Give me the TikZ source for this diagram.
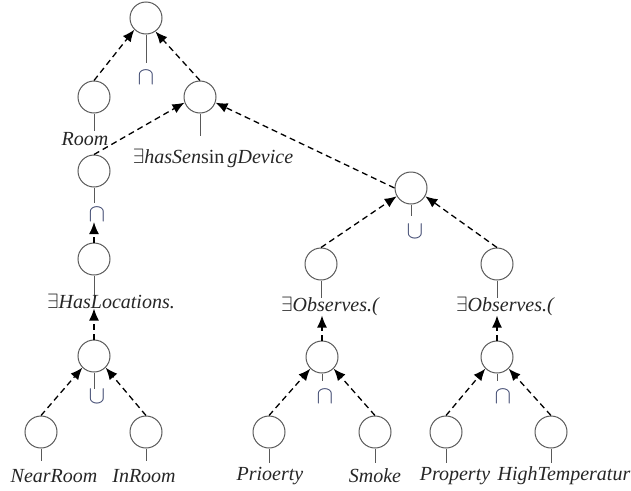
\documentclass[tikz,border=0pt]{standalone}
\usepackage{fontspec}
\setmainfont{Liberation Serif}
\usetikzlibrary{arrows.meta}
\definecolor{opcol}{RGB}{60,70,110}
\begin{document}
\begin{tikzpicture}[x=1pt,y=-1pt,
  cnode/.style={circle,draw=black!65,line width=1pt,minimum size=32pt,inner sep=0pt},
  lbl/.style={font=\fontsize{20}{24}\selectfont\itshape,inner sep=0pt,text=black!85},
  opsym/.style={font=\fontsize{30}{32}\selectfont,inner sep=0pt,text=opcol},
  stem/.style={draw=black!65,line width=1pt},
  dep/.style={draw=black,line width=1.3pt,dash pattern=on 6pt off 4pt,-{Latex[length=12pt,width=10pt]}}]
\useasboundingbox (0,0) rectangle (631,490);
% circles
\node[cnode] (top) at (146,18) {};
\node[cnode] (room) at (94,97) {};
\node[cnode] (hsd) at (200,97) {};
\node[cnode] (c1) at (94,171) {};
\node[cnode] (c2) at (94,259) {};
\node[cnode] (c3) at (94,356) {};
\node[cnode] (near) at (41,432) {};
\node[cnode] (inr) at (146,432) {};
\node[cnode] (u) at (411,188) {};
\node[cnode] (o1) at (321,264) {};
\node[cnode] (o2) at (497,264) {};
\node[cnode] (i1) at (322,357) {};
\node[cnode] (i2) at (497,357) {};
\node[cnode] (prio) at (269,432) {};
\node[cnode] (smoke) at (375,432) {};
\node[cnode] (prop) at (446,432) {};
\node[cnode] (high) at (551,432) {};
% stems
\draw[stem] (top.south) -- ++(0,28);
\draw[stem] (room.south) -- ++(0,17);
\draw[stem] (hsd.south) -- ++(0,22);
\draw[stem] (c1.south) -- ++(0,15);
\draw[stem] (c2.south) -- ++(0,22);
\draw[stem] (c3.south) -- ++(0,16);
\draw[stem] (near.south) -- ++(0,12);
\draw[stem] (inr.south) -- ++(0,12);
\draw[stem] (u.south) -- ++(0,11);
\draw[stem] (o1.south) -- ++(0,17);
\draw[stem] (o2.south) -- ++(0,17);
\draw[stem] (i1.south) -- ++(0,7);
\draw[stem] (i2.south) -- ++(0,7);
\draw[stem] (prio.south) -- ++(0,14);
\draw[stem] (smoke.south) -- ++(0,14);
\draw[stem] (prop.south) -- ++(0,14);
\draw[stem] (high.south) -- ++(0,14);
% labels
\node[opsym] (topop) at (146,78) {$\cap$};
\node[lbl] (roomL) at (85,139) {Room};
\node[lbl] (hsdL) at (213,158) {$\exists$hasSen\textup{sin}\,gDevice};
\node[opsym] (c1op) at (97,215) {$\cap$};
\node[lbl] (c2L) at (111,301) {$\exists$HasLocations.};
\node[opsym] (c3op) at (97,397) {$\cup$};
\node[lbl] (nearL) at (54,476) {NearRoom};
\node[lbl] (inrL) at (144,476) {InRoom};
\node[opsym] (uop) at (415,232) {$\cup$};
\node[lbl] (o1L) at (330,306) {$\exists$Observes.(};
\node[lbl] (o2L) at (505,306) {$\exists$Observes.(};
\node[opsym] (i1op) at (325,397) {$\cap$};
\node[opsym] (i2op) at (503,397) {$\cap$};
\node[lbl] (prioL) at (270,476) {Prioerty};
\node[lbl] (smokeL) at (375,476) {Smoke};
\node[lbl] (propL) at (455,476) {Property};
\node[lbl] (highL) at (564,476) {HighTemperatur};
% dashed dependencies
\draw[dep] (room.north) -- (top.225);
\draw[dep] (hsd.north) -- (top.-55);
\draw[dep] (c1.north) -- (hsd.200);
\draw[dep] (c2.north) -- (c2.north |- c1op.south);
\draw[dep] (c3.north) -- (c3.north |- c2L.south);
\draw[dep] (near.north) -- (c3.225);
\draw[dep] (inr.north) -- (c3.315);
\draw[dep] (u.west) -- (hsd.-20);
\draw[dep] (o1.north) -- (u.210);
\draw[dep] (o2.north) -- (u.330);
\draw[dep] (i1.north) -- (i1.north |- o1L.south);
\draw[dep] (i2.north) -- (i2.north |- o2L.south);
\draw[dep] (prio.north) -- (i1.225);
\draw[dep] (smoke.north) -- (i1.315);
\draw[dep] (prop.north) -- (i2.225);
\draw[dep] (high.north) -- (i2.315);
\end{tikzpicture}
\end{document}
